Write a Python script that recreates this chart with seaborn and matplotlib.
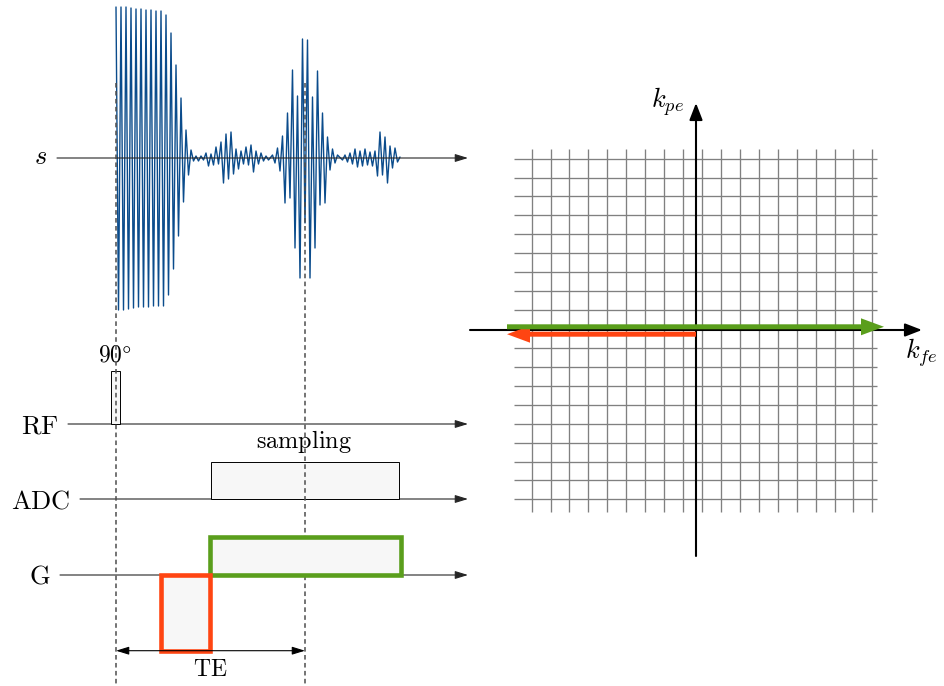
import numpy as np
import pandas as pd
import matplotlib
matplotlib.use("Agg")
import matplotlib.pyplot as plt
from matplotlib.patches import Rectangle, FancyArrow
import seaborn as sns

# ---------------------------------------------------------------
# Received signal s(t): successive extrema (half-period apart)
# ---------------------------------------------------------------
fid_amp = [151, -152, 151, -152, 151, -151, 150, -150, 149, -149, 149, -149,
           148, -149, 148, -148, 147, -148, 147, -148, 143, -137, 125, -111,
           93, -78, 60, -44, 28, -17, 8]
noise_a_amp = [-3, 2, -3, 2, -2, 5, -8, 4, -7, 11, -6, 16, -25, 24, -21, 26,
               -16, 9, -11, 7, -6, 11, -7, 13, -14, 7, -6, 5, -3, 2, -2]
echo_amp = [3, -5, 10, -13, 22, -45, 45, -40, 88, -90, 62, -120, 119, -65,
            118, -120, 61, -90, 87, -47, 45, -45, 21, -12, 9, -5, 3]
noise_b_amp = [-2, 3, -4, 5, -6, 9, -9, 7, -8, 9, -7, 6, -8, 7, -18, 26,
               -17, 21, -25, 12, -10, 10, -4, 1]

# sequence channels
channel_labels = ["RF", "ADC", "G"]
rf_flip = "90\\degree"

# event timing (time axis shared by all channels)
t_excite = 116.0
t_echo = 305.0
rf_pulse = (111.3, 120.3, 53.0)        # start, end, height
adc_window = (210.7, 399.3, 37.5)      # start, end, height
readout_grad = (209.5, 401.0, 38.5)    # start, end, amplitude
prephase_grad = (161.0, 209.5, -76.0)  # start, end, amplitude

# k-space raster
k_lines = np.arange(-9, 10)

# ---------------------------------------------------------------
# layout / style
# ---------------------------------------------------------------
half_period = 2.5
seg_starts = [116.0, 193.5, 272.5, 342.5]
y_s, y_rf, y_adc, y_g = 158.0, 424.0, 499.0, 575.0

BLUE = "#0b4c8c"
GREEN = "#5a9e1c"
RED = "#ff4512"
FILL = "#f7f7f7"
AXC = "#262626"

sns.set_theme(style="white")
plt.rcParams["mathtext.fontset"] = "cm"
plt.rcParams["font.family"] = ["DejaVu Serif"]

fig = plt.figure(figsize=(9.44, 6.86), dpi=100)
ax = fig.add_axes([0, 0, 1, 1])

# signal trace
segs = [fid_amp, noise_a_amp, echo_amp, noise_b_amp]
t_vals, a_vals = [], []
for start, seg in zip(seg_starts, segs):
    t_vals.extend(start + half_period * np.arange(len(seg)))
    a_vals.extend(seg)
sig = pd.DataFrame({"t": t_vals, "y": y_s - np.asarray(a_vals, float)})
sns.lineplot(data=sig, x="t", y="y", sort=False, estimator=None,
             color=BLUE, lw=1.0, ax=ax, zorder=2)


def timeline(x0, x1, y):
    ax.annotate("", xy=(x1, y), xytext=(x0, y),
                arrowprops=dict(arrowstyle="-|>,head_length=0.65,head_width=0.2",
                                color=AXC, lw=0.8, shrinkA=0, shrinkB=0),
                zorder=3)


timeline(57, 468, y_s)
timeline(68, 468, y_rf)
timeline(80, 468, y_adc)
timeline(60, 468, y_g)

text_kw = dict(ha="center", va="baseline", color="black")
ax.text(40.0, 164.3, r"$s$", fontsize=19, **text_kw)
ax.text(39.5, 433.3, r"$\mathrm{%s}$" % channel_labels[0], fontsize=19, **text_kw)
ax.text(40.8, 508.3, r"$\mathrm{%s}$" % channel_labels[1], fontsize=19, **text_kw)
ax.text(40.0, 584.0, r"$\mathrm{%s}$" % channel_labels[2], fontsize=19, **text_kw)

# RF pulse
ax.add_patch(Rectangle((rf_pulse[0], y_rf - rf_pulse[2]), rf_pulse[1] - rf_pulse[0],
                       rf_pulse[2], facecolor=FILL, edgecolor="black", lw=0.7, zorder=3))
ax.text(114.7, 361.7, r"$%s$" % rf_flip, fontsize=17, **text_kw)

# ADC window
ax.add_patch(Rectangle((adc_window[0], y_adc - adc_window[2]), adc_window[1] - adc_window[0],
                       adc_window[2], facecolor=FILL, edgecolor="black", lw=0.7, zorder=3))
ax.text(304.0, 448.0, r"$\mathrm{sampling}$", fontsize=17.5, **text_kw)

# gradients
ax.add_patch(Rectangle((readout_grad[0], y_g - readout_grad[2]),
                       readout_grad[1] - readout_grad[0], readout_grad[2],
                       facecolor=FILL, edgecolor=GREEN, lw=3.3, zorder=5))
ax.add_patch(Rectangle((prephase_grad[0], y_g), prephase_grad[1] - prephase_grad[0],
                       -prephase_grad[2], facecolor=FILL, edgecolor=RED, lw=3.3, zorder=5))

# timing markers
for t in (t_excite, t_echo):
    ax.plot([t, t], [83, 686], color="#4d4d4d", lw=1.1, ls=(0, (3.0, 2.2)), zorder=4)

ax.annotate("", xy=(t_echo, 650.7), xytext=(t_excite, 650.7),
            arrowprops=dict(arrowstyle="<|-|>,head_length=0.65,head_width=0.2",
                            color="black", lw=0.8, shrinkA=0, shrinkB=0), zorder=6)
ax.text(210.5, 676.0, r"$\mathrm{TE}$", fontsize=17, **text_kw)

# ---------------------------------------------------------------
# k-space
# ---------------------------------------------------------------
dk = 18.93
kx0, ky0 = 702.0, 329.0
ax.hlines(ky0 + dk * k_lines, 514, 877, color="#808080", lw=0.95, zorder=1)
ax.vlines(kx0 + dk * k_lines, 149, 512, color="#808080", lw=0.95, zorder=1)

k_arrow = dict(arrowstyle="-|>,head_length=0.85,head_width=0.33",
               color="black", lw=1.5, shrinkA=0, shrinkB=0)
ax.annotate("", xy=(922, 330), xytext=(470, 330), arrowprops=k_arrow, zorder=3)
ax.annotate("", xy=(696, 103), xytext=(696, 556), arrowprops=k_arrow, zorder=3)
ax.text(667.5, 108.0, r"$k_{pe}$", fontsize=19, **text_kw)
ax.text(921.0, 359.0, r"$k_{fe}$", fontsize=19, **text_kw)

ax.add_patch(FancyArrow(696, 334.2, 507 - 696, 0, width=5, head_width=17, head_length=23,
                        length_includes_head=True, color=RED, lw=0, zorder=4))
ax.add_patch(FancyArrow(507, 326.8, 884 - 507, 0, width=5, head_width=17, head_length=23,
                        length_includes_head=True, color=GREEN, lw=0, zorder=5))

ax.set_xlim(0, 944)
ax.set_ylim(686, 0)
ax.set_xlabel("")
ax.set_ylabel("")
ax.axis("off")

fig.savefig("out.png", dpi=100)
